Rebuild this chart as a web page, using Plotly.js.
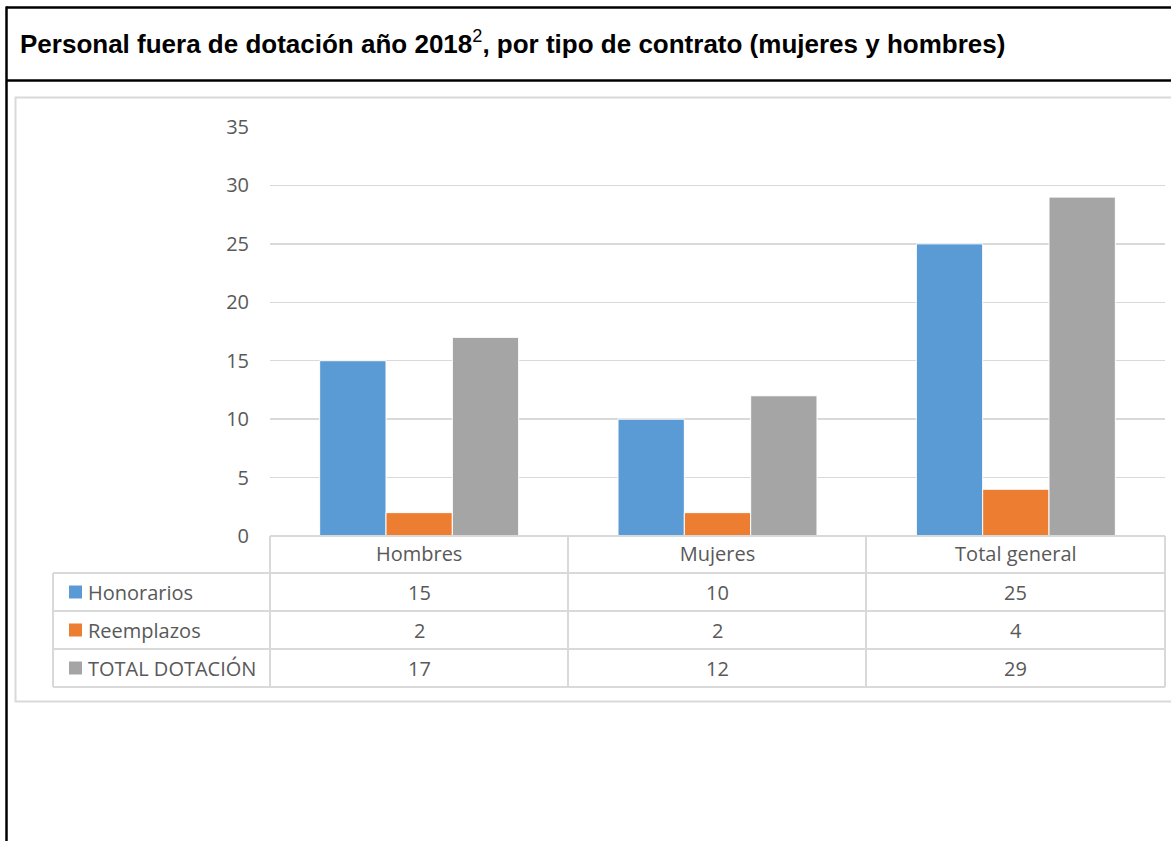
<!DOCTYPE html>
<html>
<head>
<meta charset="utf-8">
<script src="https://cdn.plot.ly/plotly-3.0.1.min.js"></script>
<style>
  body { margin: 0; background: #fff; }
  #grafico { width: 1171px; height: 841px; }
</style>
</head>
<body>
<div id="grafico"></div>
<script>
// Datos del gráfico
const categorias = ['Hombres', 'Mujeres', 'Total general'];
const series = ['Honorarios', 'Reemplazos', 'TOTAL DOTACIÓN'];
const honorarios = [15, 10, 25];
const reemplazos = [2, 2, 4];
const totalDotacion = [17, 12, 29];
const valores = [honorarios, reemplazos, totalDotacion];
const colores = ['#5b9bd5', '#ed7d31', '#a5a5a5'];

// área del gráfico en píxeles
const L = 270, T = 127, W = 895, H = 409;
const px = v => (v - L) / W;
const py = v => (T + H - v) / H;

const data = series.map((nombre, i) => ({
    x: categorias,
    y: valores[i],
    name: nombre,
    type: 'bar',
    marker: { color: colores[i], line: { color: '#ffffff', width: 1 } },
    hoverinfo: 'none'
}));

const gris = '#d9d9d9';
const linea = (x0, y0, x1, y1, color, width) => ({
    type: 'line', xref: 'paper', yref: 'paper',
    x0: px(x0), y0: py(y0), x1: px(x1), y1: py(y1),
    line: { color: color, width: width }
});

const filas = [592, 630, 668];
const cols = [270, 568, 866, 1165];

const shapes = [
    // marco negro
    linea(6, 7.5, 1180, 7.5, '#000', 2.5),
    linea(6, 80.5, 1180, 80.5, '#000', 2.5),
    linea(6.5, 6.5, 6.5, 845, '#000', 2.5),
    // borde del gráfico
    {
        type: 'rect', xref: 'paper', yref: 'paper',
        x0: px(15.5), x1: px(1180), y0: py(701.5), y1: py(97.5),
        line: { color: gris, width: 2 }
    },
    // tabla de datos
    linea(270, 536, 1165, 536, gris, 2),
    linea(53, 573, 1165, 573, gris, 2),
    linea(53, 611, 1165, 611, gris, 2),
    linea(53, 649, 1165, 649, gris, 2),
    linea(53, 687, 1165, 687, gris, 2),
    linea(53, 573, 53, 687, gris, 2)
];
cols.forEach(c => shapes.push(linea(c, 536, c, 687, gris, 2)));
series.forEach((s, i) => shapes.push({
    type: 'rect', xref: 'paper', yref: 'paper',
    x0: px(69), x1: px(82), y0: py(filas[i] + 6.5), y1: py(filas[i] - 6.5),
    fillcolor: colores[i], line: { width: 0 }
}));

const annotations = [];
series.forEach((s, i) => {
    annotations.push({
        xref: 'paper', yref: 'paper', x: px(86), y: py(filas[i]),
        xanchor: 'left', yanchor: 'middle', text: s, showarrow: false
    });
    categorias.forEach((c, j) => annotations.push({
        xref: 'x', yref: 'paper', x: c, y: py(filas[i]),
        xanchor: 'center', yanchor: 'middle', text: String(valores[i][j]), showarrow: false
    }));
});

const layout = {
    width: 1171,
    height: 841,
    margin: { l: L, r: 1171 - L - W, t: T, b: 841 - T - H },
    paper_bgcolor: '#ffffff',
    plot_bgcolor: '#ffffff',
    font: { family: 'Open Sans, sans-serif', size: 20, color: '#595959' },
    title: {
        text: '<b>Personal fuera de dotación año 2018</b><sup>2</sup><b>, por tipo de contrato (mujeres y hombres)</b>',
        font: { family: 'Liberation Sans, Arial, sans-serif', size: 26, color: '#000' },
        xref: 'container', yref: 'container',
        x: 20 / 1171, xanchor: 'left',
        y: 1 - 44 / 841, yanchor: 'middle'
    },
    showlegend: false,
    barmode: 'group',
    bargap: 0.333,
    bargroupgap: 0,
    xaxis: {
        type: 'category',
        showline: false,
        showgrid: false,
        ticks: '',
        ticklabelstandoff: 4,
        fixedrange: true
    },
    yaxis: {
        range: [0, 35],
        tickvals: [0, 5, 10, 15, 20, 25, 30, 35],
        showgrid: true,
        gridcolor: gris,
        gridwidth: 1.5,
        zeroline: false,
        showline: false,
        ticks: '',
        ticklabelstandoff: 20,
        fixedrange: true
    },
    shapes: shapes,
    annotations: annotations
};

Plotly.newPlot('grafico', data, layout, { displayModeBar: false, staticPlot: true });
</script>
</body>
</html>
